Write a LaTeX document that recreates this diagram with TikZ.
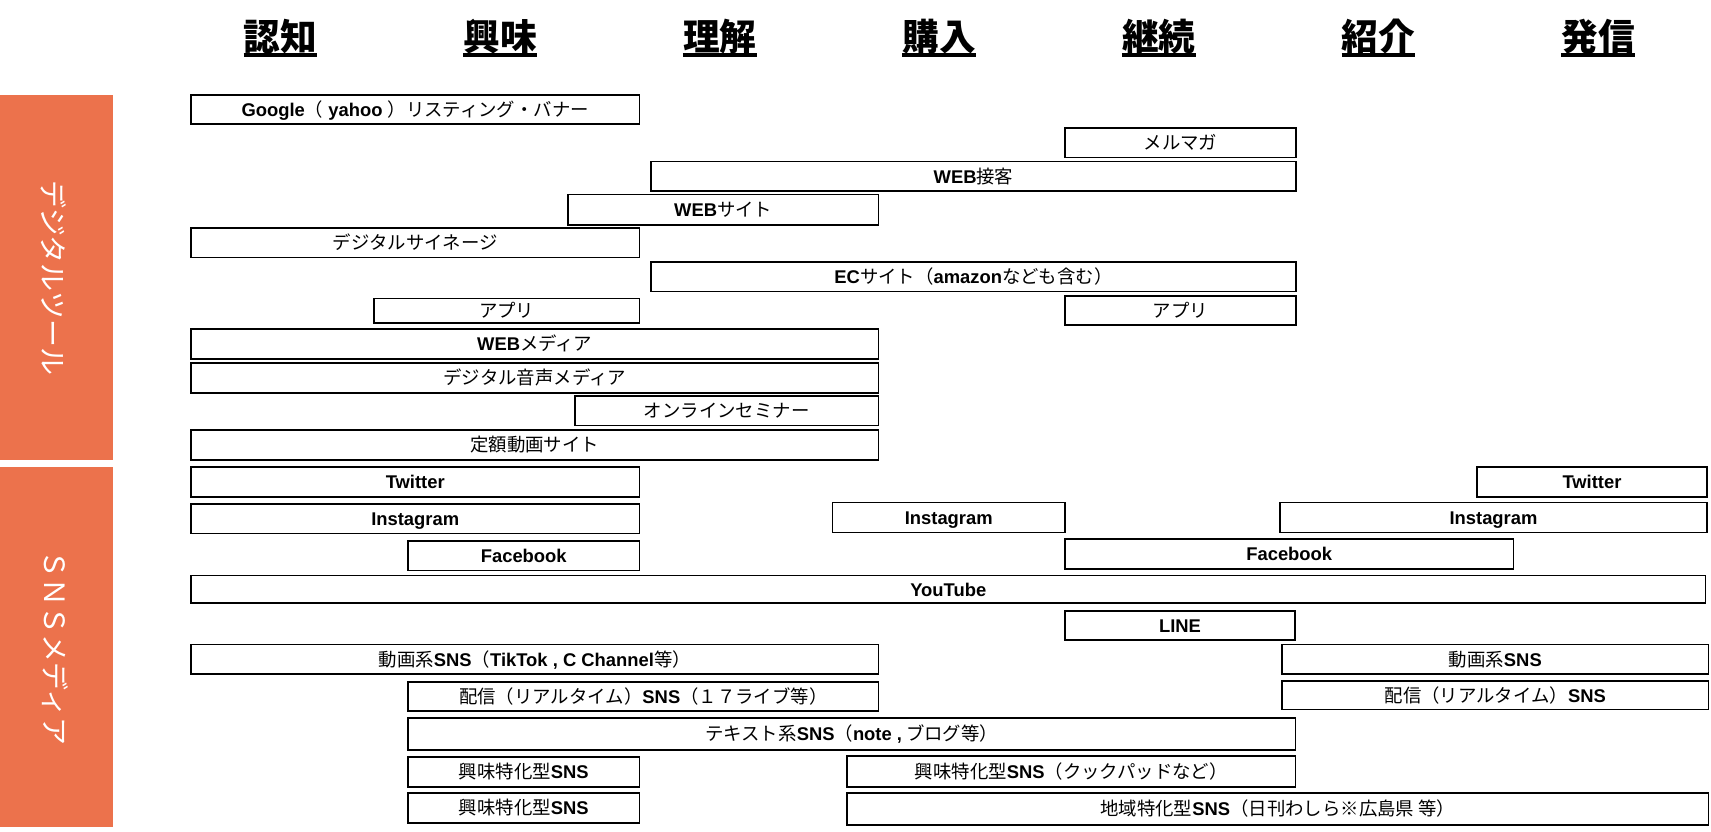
\documentclass[tikz,border=0pt]{standalone}
\usepackage{fontspec}
\setmainfont{Noto Sans CJK JP}
\newfontfamily\latfont{Liberation Sans}
\usetikzlibrary{calc}
\definecolor{sideorange}{RGB}{236,114,76}
\newcommand\LB[1]{{\latfont\bfseries #1}}
\tikzset{
  bx/.style={draw=black, line width=1.2pt, inner sep=0pt, fill=white,
    font=\fontsize{13.8pt}{16pt}\selectfont, text height=12.4pt, text depth=2pt},
  head/.style={inner sep=0pt, anchor=base, font=\fontsize{27.5pt}{30pt}\selectfont\bfseries},
  ul/.style={line width=2.5pt},
  sidebar/.style={fill=sideorange, draw=none},
  sidetext/.style={text=white, rotate=-90, inner sep=0pt,
    font=\fontsize{21pt}{24pt}\selectfont, text height=19pt, text depth=3pt}
}
\newcommand\mybox[6]{\node[bx, minimum width={(#4-#2)*0.75pt}, minimum height={(#5-#3)*0.75pt}] (#1) at ({(#2+#4)/2},{(#3+#5)/2}) {#6};}
\begin{document}
\begin{tikzpicture}[x=0.75pt,y=-0.75pt]
\useasboundingbox (0,0) rectangle (1711,832);
\fill[white] (0,0) rectangle (1711,832);
% side bars
\node[sidebar, anchor=north west, minimum width=84.4pt, minimum height=273.75pt, inner sep=0pt] (bar1) at (0,95) {};
\node[sidebar, anchor=north west, minimum width=84.4pt, minimum height=270pt, inner sep=0pt] (bar2) at (0,467) {};
\node[sidetext] (s1) at (53,278) {デジタルツール};
\node[sidetext] (s2) at (55,648) {ＳＮＳメディア};
% headers
\foreach \i/\t in {0/認知,1/興味,2/理解,3/購入,4/継続,5/紹介,6/発信}{
  \node[head] (h\i) at ({280.5+219.6*\i},50.5) {\t};
  \draw[ul] ($(h\i.base west)+(0,4.5)$) -- ($(h\i.base east)+(0,4.5)$);
}
% digital tools
\mybox{g}{191}{95}{639.5}{124}{\LB{Google}（\LB{\ yahoo\ }）リスティング・バナー}
\mybox{mm}{1065}{128}{1296}{157.5}{メルマガ}
\mybox{wc}{651}{161.5}{1296}{191}{\LB{WEB}接客}
\mybox{ws}{568}{194.5}{878.5}{225}{\LB{WEB}サイト}
\mybox{ds}{191}{228}{639.5}{257.5}{デジタルサイネージ}
\mybox{ec}{651}{262}{1296}{291.5}{\LB{EC}サイト（\LB{amazon}なども含む）}
\mybox{apl}{374}{298.5}{639.5}{323}{アプリ}
\mybox{apr}{1065}{296}{1296}{325}{アプリ}
\mybox{wm}{191}{329}{878.5}{359}{\LB{WEB}メディア}
\mybox{om}{191}{363}{878.5}{393}{デジタル音声メディア}
\mybox{os}{575}{396}{878.5}{425.5}{オンラインセミナー}
\mybox{td}{191}{430}{878.5}{460}{定額動画サイト}
% SNS media
\mybox{twl}{191}{467}{639.5}{497}{\LB{Twitter}}
\mybox{twr}{1477}{467}{1707}{497}{\LB{Twitter}}
\mybox{igl}{191}{504}{639.5}{533.5}{\LB{Instagram}}
\mybox{igm}{832.5}{502.5}{1065}{532.5}{\LB{Instagram}}
\mybox{igr}{1280}{502.5}{1707}{532.5}{\LB{Instagram}}
\mybox{fbl}{408}{541}{639.5}{570.5}{\LB{Facebook}}
\mybox{fbr}{1065}{539}{1513.5}{569}{\LB{Facebook}}
\mybox{yt}{191}{575.5}{1705.5}{603}{\LB{YouTube}}
\mybox{ln}{1065}{611}{1295}{640}{\LB{LINE}}
\mybox{vsl}{191}{644.5}{878.5}{674}{動画系\LB{SNS}（\LB{TikTok , C Channel}等）}
\mybox{vsr}{1282}{644.5}{1708.5}{674}{動画系\LB{SNS}}
\mybox{lsl}{408}{682}{878.5}{711}{配信（リアルタイム）\LB{SNS}（１７ライブ等）}
\mybox{lsr}{1282}{681}{1708.5}{709.5}{配信（リアルタイム）\LB{SNS}}
\mybox{tx}{408}{718}{1295.5}{750}{テキスト系\LB{SNS}（\LB{note ,} ブログ等）}
\mybox{in1}{408}{757}{639.5}{787}{興味特化型\LB{SNS}}
\mybox{ick}{847}{756}{1295.5}{787}{興味特化型\LB{SNS}（クックパッドなど）}
\mybox{in2}{408}{793}{639.5}{823}{興味特化型\LB{SNS}}
\mybox{rg}{847}{793}{1708.5}{825}{地域特化型\LB{SNS}（日刊わしら※広島県 等）}
\end{tikzpicture}
\end{document}
